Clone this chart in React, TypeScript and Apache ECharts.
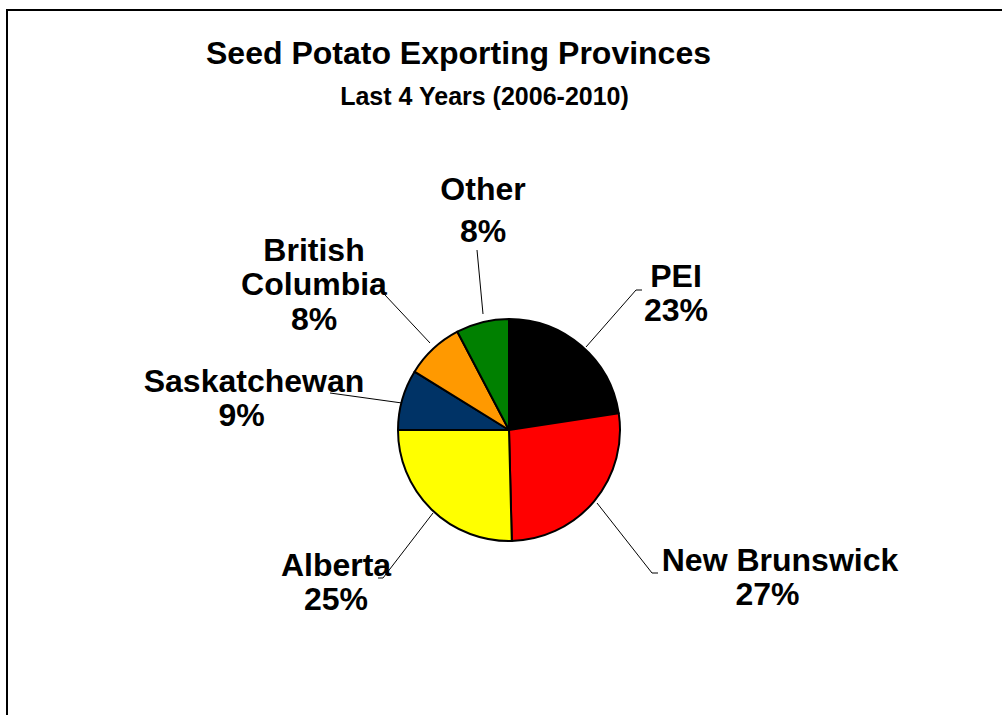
import React, { useEffect, useRef } from "react";
import * as echarts from "echarts";

const TITLE = "Seed Potato Exporting Provinces";
const SUBTITLE = "Last 4 Years (2006-2010)";
const PROVINCES = ["PEI", "New Brunswick", "Alberta", "Saskatchewan", "British Columbia", "Other"];
const SHARES = [22.6, 27.0, 25.4, 8.8, 8.5, 7.7];
const COLORS = ["#000000", "#FF0000", "#FFFF00", "#003366", "#FF9900", "#008000"];

// label layout (pixel positions of label centers and their leader lines)
const LABEL_LAYOUT = [
  { x: 676, y: 293, line: [[586, 347], [636, 290], [642, 290]] },
  { x: 780, y: 577, line: [[597, 503], [652, 573], [658, 573]] },
  { x: 336, y: 582, line: [[433, 513], [383, 578], [378, 578]] },
  { x: 254, y: 398, line: [[402, 403], [330, 393], [330, 393]] },
  { x: 314, y: 284, line: [[430, 343], [385, 295], [385, 295]] },
  { x: 483, y: 210, line: [[483, 314], [477, 250], [477, 250]] },
];
const SHIFTED_PCT = ["New Brunswick", "Saskatchewan"];

export default function App() {
  const ref = useRef<HTMLDivElement>(null);
  useEffect(() => {
    if (!ref.current) return;
    const chart = echarts.init(ref.current, null, { renderer: "svg" });
    const font = "'Liberation Sans', Arial, Helvetica, sans-serif";
    const lineStd = 34.5;
    const lineOther = 42.5;
    chart.setOption({
      animation: false,
      backgroundColor: "#ffffff",
      graphic: [
        {
          type: "rect",
          shape: { x: 7, y: 10, width: 1020, height: 730 },
          style: { fill: "none", stroke: "#000", lineWidth: 2 },
          z: 0,
        },
        {
          type: "text",
          x: 458.5,
          y: 53,
          style: {
            text: TITLE,
            fontFamily: font,
            fontWeight: "bold",
            fontSize: 32,
            fill: "#000",
            align: "center",
            verticalAlign: "middle",
          },
        },
        {
          type: "text",
          x: 484.5,
          y: 96,
          style: {
            text: SUBTITLE,
            fontFamily: font,
            fontWeight: "bold",
            fontSize: 25,
            fill: "#000",
            align: "center",
            verticalAlign: "middle",
          },
        },
      ],
      series: [
        {
          type: "pie",
          center: [509, 430],
          radius: 111,
          startAngle: 90,
          clockwise: true,
          percentPrecision: 0,
          avoidLabelOverlap: false,
          data: PROVINCES.map((name, i) => ({
            name,
            value: SHARES[i],
            itemStyle: { color: COLORS[i] },
          })),
          itemStyle: { borderColor: "#000", borderWidth: 2 },
          emphasis: { disabled: true },
          label: {
            show: true,
            position: "outside",
            fontFamily: font,
            fontWeight: "bold",
            fontSize: 32,
            color: "#000",
            formatter: (p: any) => {
              const name = p.name === "British Columbia" ? "British\nColumbia" : p.name;
              const other = p.name === "Other";
              const nameStyle = other ? "no" : "n";
              const nameText = name
                .split("\n")
                .map((s: string) => `{${nameStyle}|${s}}`)
                .join("\n");
              const pctStyle = other ? "po" : SHIFTED_PCT.includes(p.name) ? "q" : "p";
              return `${nameText}\n{${pctStyle}|${p.percent}%}`;
            },
            rich: {
              n: { fontFamily: font, fontWeight: "bold", fontSize: 32, lineHeight: lineStd, color: "#000" },
              p: { fontFamily: font, fontWeight: "bold", fontSize: 32, lineHeight: lineStd, color: "#000" },
              q: {
                fontFamily: font,
                fontWeight: "bold",
                fontSize: 32,
                lineHeight: lineStd,
                color: "#000",
                padding: [0, 25, 0, 0],
              },
              no: { fontFamily: font, fontWeight: "bold", fontSize: 32, lineHeight: lineOther, color: "#000" },
              po: { fontFamily: font, fontWeight: "bold", fontSize: 32, lineHeight: lineOther, color: "#000" },
            },
          },
          labelLine: {
            show: true,
            lineStyle: { color: "#000", width: 1 },
          },
          labelLayout: (params: any) => {
            const l = LABEL_LAYOUT[params.dataIndex];
            return {
              x: l.x,
              y: l.y,
              align: "center",
              verticalAlign: "middle",
              labelLinePoints: l.line,
            };
          },
        },
      ],
    });
    return () => chart.dispose();
  }, []);
  return (
    <div
      ref={ref}
      style={{ position: "fixed", left: 0, top: 0, width: 1002, height: 715 }}
    />
  );
}
